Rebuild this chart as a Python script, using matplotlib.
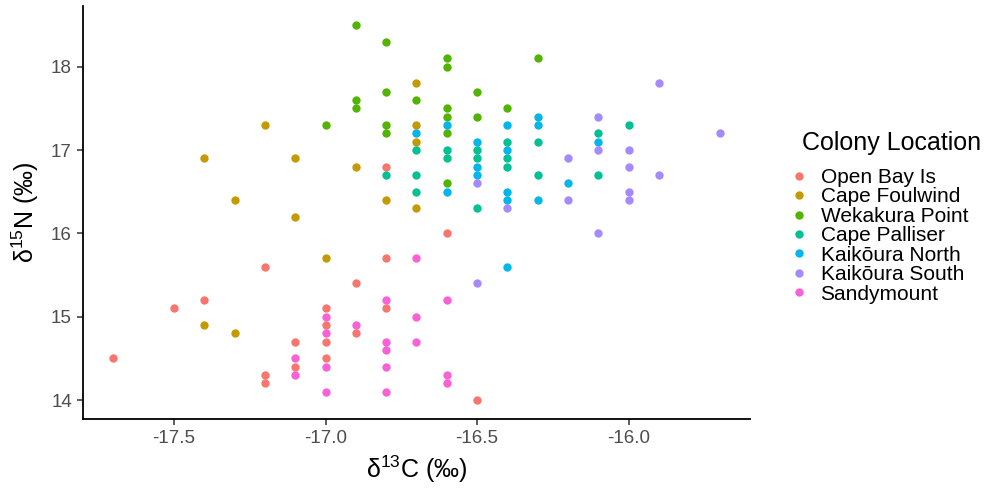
import matplotlib
matplotlib.use("Agg")
import matplotlib.pyplot as plt
from matplotlib.lines import Line2D

plt.rcParams['font.family'] = ['Liberation Sans', 'DejaVu Sans']
plt.rcParams['mathtext.fontset'] = 'custom'
plt.rcParams['mathtext.rm'] = 'Liberation Sans'
plt.rcParams['mathtext.it'] = 'Liberation Sans:italic'

# Colony locations (legend order)
colonies = ["Open Bay Is", "Cape Foulwind", "Wekakura Point", "Cape Palliser",
            "Kaikōura North", "Kaikōura South", "Sandymount"]
colors = ["#F8766D", "#C49A00", "#53B400", "#00C094", "#00B6EB", "#A58AFF", "#FB61D7"]

# delta13C / delta15N values per colony
open_bay_c = [-17.7, -17.5, -17.4, -17.2, -17.2, -17.2, -17.1, -17.1, -17.0, -17.0,
              -17.0, -17.0, -16.9, -16.9, -16.8, -16.8, -16.8, -16.6, -16.5]
open_bay_n = [14.5, 15.1, 15.2, 15.6, 14.3, 14.2, 14.7, 14.4, 15.1, 14.9,
              14.7, 14.5, 15.4, 14.8, 16.8, 15.7, 15.1, 16.0, 14.0]

foulwind_c = [-17.4, -17.4, -17.3, -17.3, -17.2, -17.1, -17.1, -17.0, -16.9, -16.8,
              -16.7, -16.7, -16.7, -16.7]
foulwind_n = [16.9, 14.9, 16.4, 14.8, 17.3, 16.9, 16.2, 15.7, 16.8, 16.4,
              17.8, 17.3, 17.1, 16.3]

wekakura_c = [-17.0, -16.9, -16.9, -16.9, -16.8, -16.8, -16.8, -16.8, -16.7, -16.6,
              -16.6, -16.6, -16.6, -16.6, -16.6, -16.5, -16.5, -16.4, -16.3]
wekakura_n = [17.3, 18.5, 17.6, 17.5, 18.3, 17.7, 17.3, 17.2, 17.6, 18.1,
              18.0, 17.5, 17.4, 17.2, 16.6, 17.7, 17.4, 17.5, 18.1]

palliser_c = [-16.8, -16.7, -16.7, -16.7, -16.6, -16.6, -16.5, -16.5, -16.5, -16.4,
              -16.4, -16.4, -16.3, -16.3, -16.1, -16.1, -16.0]
palliser_n = [16.7, 17.0, 16.7, 16.5, 17.0, 16.9, 17.0, 16.9, 16.3, 17.1,
              16.9, 16.8, 17.1, 16.7, 17.2, 16.7, 17.3]

kaik_north_c = [-16.7, -16.6, -16.6, -16.5, -16.5, -16.5, -16.4, -16.4, -16.4, -16.4,
                -16.4, -16.3, -16.3, -16.3, -16.2, -16.1]
kaik_north_n = [17.2, 17.3, 16.5, 17.1, 16.8, 16.7, 17.3, 17.0, 16.5, 16.4,
                15.6, 17.4, 17.3, 16.4, 16.6, 17.1]

kaik_south_c = [-16.5, -16.5, -16.4, -16.2, -16.2, -16.1, -16.1, -16.1, -16.0, -16.0,
                -16.0, -16.0, -15.9, -15.9, -15.7]
kaik_south_n = [16.6, 15.4, 16.3, 16.9, 16.4, 17.4, 17.0, 16.0, 17.0, 16.8,
                16.5, 16.4, 17.8, 16.7, 17.2]

sandy_c = [-17.1, -17.1, -17.0, -17.0, -17.0, -17.0, -16.9, -16.8, -16.8, -16.8,
           -16.8, -16.8, -16.7, -16.7, -16.7, -16.6, -16.6, -16.6]
sandy_n = [14.5, 14.3, 15.0, 14.8, 14.4, 14.1, 14.9, 15.2, 14.7, 14.6,
           14.4, 14.1, 15.7, 15.0, 14.7, 15.2, 14.3, 14.2]

series_c = [open_bay_c, foulwind_c, wekakura_c, palliser_c, kaik_north_c, kaik_south_c, sandy_c]
series_n = [open_bay_n, foulwind_n, wekakura_n, palliser_n, kaik_north_n, kaik_south_n, sandy_n]

x_ticks = [-17.5, -17.0, -16.5, -16.0]
x_ticklabels = ["-17.5", "-17.0", "-16.5", "-16.0"]
y_ticks = [14, 15, 16, 17, 18]

fig = plt.figure(figsize=(9.88, 4.91), dpi=100)
ax = fig.add_axes([0.084, 0.147, 0.675, 0.840])

for cx, ny, col in zip(series_c, series_n, colors):
    ax.scatter(cx, ny, s=36, color=col, linewidths=0, zorder=3)

ax.set_xlim(-17.8, -15.6)
ax.set_ylim(13.775, 18.725)
ax.set_xticks(x_ticks)
ax.set_xticklabels(x_ticklabels)
ax.set_yticks(y_ticks)

for side in ("top", "right"):
    ax.spines[side].set_visible(False)
for side in ("left", "bottom"):
    ax.spines[side].set_linewidth(1.3)
    ax.spines[side].set_color("black")

ax.tick_params(axis="both", length=4, width=1.1, color="#333333",
               labelcolor="#4D4D4D", labelsize=13.5, pad=4)

ax.set_xlabel(r"δ$^{13}$C (‰)", fontsize=18, color="black", labelpad=5)
ax.set_ylabel(r"δ$^{15}$N (‰)", fontsize=18, color="black", labelpad=7)

# Legend: title drawn as text, keys below it
fig.text(802 / 988, 1 - 143 / 491, "Colony Location", fontsize=18,
         ha="left", va="center", color="black")

handles = [Line2D([0], [0], marker="o", linestyle="none", markersize=6,
                  markerfacecolor=c, markeredgewidth=0) for c in colors]
fig.legend(handles, colonies, loc="upper left",
           bbox_to_anchor=(793 / 988, 1 - 168 / 491),
           frameon=False, fontsize=15, labelspacing=0.02,
           handletextpad=0.72, handlelength=0.6, borderpad=0,
           borderaxespad=0)

fig.savefig("out.png", dpi=100)
